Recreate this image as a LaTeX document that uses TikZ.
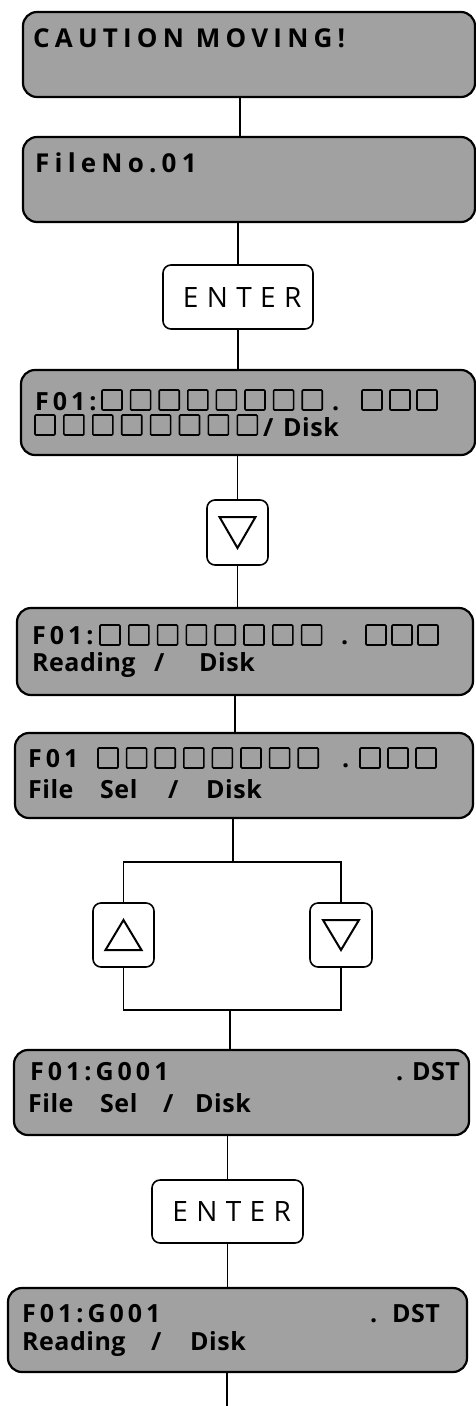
\documentclass[tikz,border=0pt]{standalone}
\usepackage{fontspec}
\setmainfont{Open Sans}
\newfontfamily\lcdf{Open Sans}[LetterSpace=2]
\newfontfamily\lcdw{Open Sans}[LetterSpace=16]
\newfontfamily\lcdx{Open Sans}[LetterSpace=20]
\newfontfamily\keyf{Open Sans}[LetterSpace=30]
\usetikzlibrary{calc}
\tikzset{
  lcd/.style={draw, line width=2.2pt, fill=black!37, rounded corners=14pt, inner sep=0pt},
  keybox/.style={draw, line width=1.6pt, fill=white, rounded corners=8pt, inner sep=0pt},
  conn/.style={line width=1.3pt},
  txt/.style={anchor=base west, inner sep=0pt, font=\lcdf\bfseries\fontsize{25}{25}\selectfont},
  wtxt/.style={anchor=base west, inner sep=0pt, font=\lcdw\bfseries\fontsize{25}{25}\selectfont},
  xtxt/.style={anchor=base west, inner sep=0pt, font=\lcdx\bfseries\fontsize{26}{26}\selectfont},
  ktxt/.style={font=\keyf\fontsize{28}{28}\selectfont},
  sqr/.style={line width=1.6pt, rounded corners=1pt},
  tri/.style={line width=2pt, line join=miter}
}
\begin{document}
\begin{tikzpicture}[x=1pt,y=-1pt]
\useasboundingbox (0,0) rectangle (476,1406);
% boxes
\node[lcd, minimum width=452pt, minimum height=85pt] (b1) at (249,54.5) {};
\node[lcd, minimum width=452pt, minimum height=85pt] (b2) at (249,179.5) {};
\node[keybox, minimum width=150pt, minimum height=64pt, ktxt] (k1) at (238,297) {\hspace*{8.4pt}ENTER};
\node[lcd, minimum width=454pt, minimum height=85pt] (b3) at (248,412.5) {};
\node[keybox, minimum width=61pt, minimum height=65pt] (k2) at (237.5,532.5) {};
\node[lcd, minimum width=456pt, minimum height=87pt] (b4) at (245,651.5) {};
\node[lcd, minimum width=458pt, minimum height=85pt] (b5) at (244,775.5) {};
\node[keybox, minimum width=61pt, minimum height=64pt] (k3) at (123.5,935) {};
\node[keybox, minimum width=62pt, minimum height=64pt] (k4) at (341,935) {};
\node[lcd, minimum width=455pt, minimum height=85pt] (b6) at (241.5,1092.5) {};
\node[keybox, minimum width=151pt, minimum height=63pt, ktxt] (k5) at (227.5,1211.5) {\hspace*{8.4pt}ENTER};
\node[lcd, minimum width=459pt, minimum height=84pt] (b7) at (237.5,1330) {};
\coordinate (jt) at (233,862);
\coordinate (jb) at (230,1010);
\coordinate (e) at (227,1406);
% connectors
\draw[conn] ([xshift=-9pt]b1.south) -- ([xshift=-9pt]b2.north);
\draw[conn] (b2.south -| k1.north) -- (k1.north);
\draw[conn] (k1.south) -- (k1.south |- b3.north);
\draw[conn] (b3.south -| k2.north) -- (k2.north);
\draw[conn] (k2.south) -- (k2.south |- b4.north);
\draw[conn] ([xshift=-10pt]b4.south) -- ([xshift=-10pt]b4.south |- b5.north);
\draw[conn] (b5.south -| jt) -- (jt);
\draw[conn] (k3.north) |- (jt) -| (k4.north);
\draw[conn] (k3.south) |- (jb) -| (k4.south);
\draw[conn] (jb) -- (jb |- b6.north);
\draw[conn] (b6.south -| k5.north) -- (k5.north);
\draw[conn] (k5.south) -- (k5.south |- b7.north);
\draw[conn] (b7.south -| e) -- (e);
% triangles
\draw[tri] ($(k2.center)+(-18,-15.5)$) -- ++(36,0) -- ++(-18,31) -- cycle;
\draw[tri] ($(k3.center)+(-18,15)$) -- ++(36,0) -- ++(-18,-30) -- cycle;
\draw[tri] ($(k4.center)+(-18,-15)$) -- ++(36,0) -- ++(-18,30) -- cycle;
% texts
\node[xtxt] (t1) at (33,47) {CAUTION MOVING!};
\node[xtxt] (t2) at (35,172) {FileNo.01};
\node[wtxt] (t3a) at (35,410) {F01:};
\node[txt] (t3b) at (332,410) {.};
\node[txt] (t3c) at (263,436) {/};
\node[txt] (t3d) at (283,436) {Disk};
\node[wtxt] (t4a) at (32,644) {F01:};
\node[txt] (t4b) at (341,644) {.};
\node[txt] (t4c) at (32,671) {Reading};
\node[txt] (t4d) at (154,671) {/};
\node[txt] (t4e) at (199,671) {Disk};
\node[wtxt] (t5a) at (28,767) {F01};
\node[txt] (t5b) at (342,767) {.};
\node[txt] (t5c) at (28,798) {File};
\node[txt] (t5d) at (100,798) {Sel};
\node[txt] (t5e) at (168,798) {/};
\node[txt] (t5f) at (206,798) {Disk};
\node[wtxt] (t6a) at (30,1080) {F01:G001};
\node[txt] (t6b) at (396,1080) {.};
\node[txt] (t6c) at (412,1080) {DST};
\node[txt] (t6d) at (28,1112) {File};
\node[txt] (t6e) at (100,1112) {Sel};
\node[txt] (t6f) at (163,1112) {/};
\node[txt] (t6g) at (195,1112) {Disk};
\node[wtxt] (t7a) at (22,1322) {F01:G001};
\node[txt] (t7b) at (370,1322) {.};
\node[txt] (t7c) at (392,1322) {DST};
\node[txt] (t7d) at (22,1350) {Reading};
\node[txt] (t7e) at (151,1350) {/};
\node[txt] (t7f) at (190,1350) {Disk};
% character cells
\foreach \i in {0,...,7} \draw[sqr] ({102+28.6*\i},390) rectangle ++(20,20);
\foreach \x in {362,390,417} \draw[sqr] (\x,390) rectangle ++(20,20);
\foreach \i in {0,...,7} \draw[sqr] ({35+28.9*\i},415) rectangle ++(20,20);
\foreach \i in {0,...,7} \draw[sqr] ({100+28.8*\i},625) rectangle ++(20,20);
\foreach \x in {366,392,418} \draw[sqr] (\x,625) rectangle ++(20,20);
\foreach \i in {0,...,7} \draw[sqr] ({98+28.6*\i},748) rectangle ++(20,20);
\foreach \x in {360,388,416} \draw[sqr] (\x,748) rectangle ++(20,20);
\end{tikzpicture}
\end{document}
